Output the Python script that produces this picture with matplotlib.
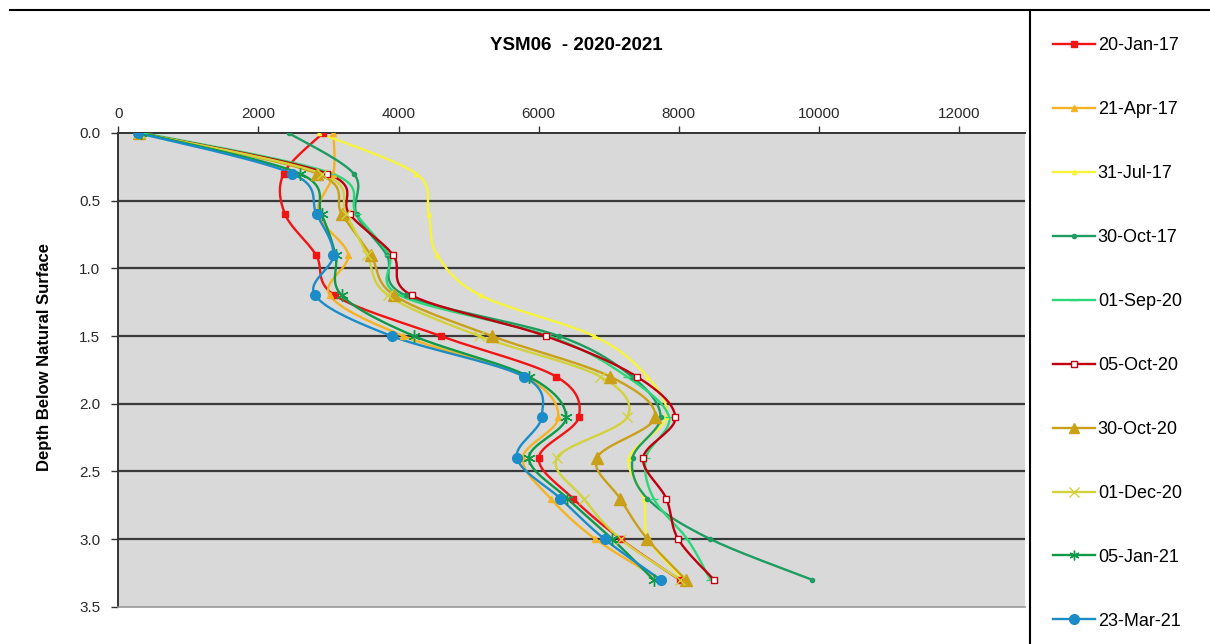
import numpy as np
import matplotlib
matplotlib.use("Agg")
import matplotlib.pyplot as plt
from matplotlib.lines import Line2D

plt.rcParams['font.family'] = ['Liberation Sans', 'DejaVu Sans']

# Depth below natural surface (m)
depth = [0.0, 0.3, 0.6, 0.9, 1.2, 1.5, 1.8, 2.1, 2.4, 2.7, 3.0, 3.3]

# Readings per survey date
jan17 = [2920, 2360, 2380, 2820, 3090, 4600, 6250, 6570, 6000, 6490, 7170, 8010]
apr17 = [3070, 3070, 2850, 3280, 3020, 4070, 5800, 6280, 5770, 6170, 6810, 7740]
jul17 = [2860, 4250, 4430, 4550, 5170, 6790, 7550, 7820, 7290, 7500, 7570, 8070]
oct17 = [2430, 3360, 3400, 3830, 4100, 6290, 7330, 7740, 7340, 7550, 8450, 9900]
sep20 = [350, 3050, 3400, 3860, 4020, 6150, 7260, 7860, 7530, 7640, 8120, 8450]
oct20a = [300, 2980, 3300, 3920, 4190, 6100, 7400, 7950, 7490, 7820, 7990, 8500]
oct20b = [300, 2840, 3190, 3600, 3940, 5330, 7020, 7660, 6830, 7160, 7550, 8100]
dec20 = [300, 2900, 3250, 3550, 3850, 5150, 6880, 7260, 6260, 6640, 7170, 8020]
jan21 = [320, 2590, 2900, 3100, 3190, 4220, 5860, 6390, 5860, 6410, 7050, 7640]
mar21 = [280, 2480, 2830, 3070, 2810, 3900, 5790, 6040, 5690, 6310, 6940, 7740]

labels = ['20-Jan-17', '21-Apr-17', '31-Jul-17', '30-Oct-17', '01-Sep-20',
          '05-Oct-20', '30-Oct-20', '01-Dec-20', '05-Jan-21', '23-Mar-21']
series = [jan17, apr17, jul17, oct17, sep20, oct20a, oct20b, dec20, jan21, mar21]

styles = [
    dict(color='#F01414', marker='s', ms=4, mfc='#F01414', mec='#F01414'),
    dict(color='#F5B324', marker='^', ms=4, mfc='#F5B324', mec='#F5B324'),
    dict(color='#F6F43A', marker='^', ms=3, mfc='#F6F43A', mec='#F6F43A'),
    dict(color='#1E9C62', marker='o', ms=3, mfc='#1E9C62', mec='#1E9C62'),
    dict(color='#2ED67A', marker='_', ms=6, mfc='#2ED67A', mec='#2ED67A'),
    dict(color='#C00010', marker='s', ms=4, mfc='white', mec='#C00010'),
    dict(color='#C9A018', marker='^', ms=8, mfc='#C9A018', mec='#C9A018'),
    dict(color='#D2D23C', marker='x', ms=7, mfc='#D2D23C', mec='#D2D23C'),
    dict(color='#0E9A48', marker=(6, 2, 0), ms=9, mfc='#0E9A48', mec='#0E9A48'),
    dict(color='#1B8CC8', marker='o', ms=7, mfc='#1B8CC8', mec='#1B8CC8'),
]


def smooth(x, y, n=20):
    """Bezier smoothing through the points (tension 1/6, as in spreadsheet charts)."""
    p = np.column_stack([x, y]).astype(float)
    ext = np.vstack([p[0], p, p[-1]])
    out = [p[0]]
    t = np.linspace(0, 1, n)[1:, None]
    for i in range(len(p) - 1):
        p0, p1 = ext[i + 1], ext[i + 2]
        c1 = p0 + (ext[i + 2] - ext[i]) / 6.0
        c2 = p1 - (ext[i + 3] - ext[i + 1]) / 6.0
        seg = ((1 - t) ** 3) * p0 + 3 * ((1 - t) ** 2) * t * c1 + 3 * (1 - t) * t ** 2 * c2 + t ** 3 * p1
        out.extend(seg)
    out = np.array(out)
    return out[:, 0], out[:, 1]


W, H = 1210, 644
fig = plt.figure(figsize=(W / 100, H / 100), dpi=100)
ax = fig.add_axes([118.3 / W, 1 - 606.8 / H, (1025 - 118.3) / W, (606.8 - 133) / H])
ax.set_facecolor('#D9D9D9')

for vals, lab, st in zip(series, labels, styles):
    sx, sy = smooth(vals, depth)
    ax.plot(sx, sy, color=st['color'], lw=1.7, zorder=3, solid_capstyle='round')
    ax.plot(vals, depth, ls='none', marker=st['marker'], ms=st['ms'],
            mfc=st['mfc'], mec=st['mec'], mew=1.0, zorder=4)

ax.set_xlim(0, 12940)
ax.set_ylim(3.5, 0)
ax.xaxis.tick_top()
ax.set_xticks([0, 2000, 4000, 6000, 8000, 10000, 12000])
ax.set_yticks(np.arange(0, 3.51, 0.5))
ax.set_yticklabels([f'{v:.1f}' for v in np.arange(0, 3.51, 0.5)])
ax.tick_params(axis='x', direction='out', length=5, width=1, color='#333333',
               labelsize=11, labelcolor='#2A2A2A', pad=4)
ax.tick_params(axis='y', direction='out', length=5, width=1, color='#333333',
               labelsize=11, labelcolor='#2A2A2A', pad=8)
for v in np.arange(0.5, 3.01, 0.5):
    ax.axhline(v, color='#3A3A3A', lw=1.6, zorder=2)
ax.spines['right'].set_visible(False)
ax.spines['top'].set_color('#333333')
ax.spines['top'].set_linewidth(1.4)
ax.spines['left'].set_color('#333333')
ax.spines['left'].set_linewidth(1.4)
ax.spines['bottom'].set_color('#9A9A9A')
ax.spines['bottom'].set_linewidth(1.2)

fig.text(45 / W, 1 - 357 / H, 'Depth Below Natural Surface', rotation=90,
         ha='center', va='center', fontsize=12, fontweight='bold')
fig.text(576 / W, 1 - 45 / H, 'YSM06  - 2020-2021', ha='center', va='center',
         fontsize=13.5, fontweight='bold')

# Legend panel on the right
fig.add_artist(Line2D([10 / W, 1], [1 - 10 / H, 1 - 10 / H], transform=fig.transFigure,
                      color='black', lw=1.5))
fig.add_artist(Line2D([1030 / W, 1030 / W], [0, 1 - 10 / H], transform=fig.transFigure,
                      color='black', lw=1.5))
handles = [Line2D([0], [0], color=st['color'], lw=1.7, marker=st['marker'],
                  ms=min(st['ms'], 7), mfc=st['mfc'], mec=st['mec']) for st in styles]
leg = fig.legend(handles, labels, loc='upper left', bbox_to_anchor=(1046 / W, 1 - 30 / H),
                 frameon=False, fontsize=13, handlelength=2.3, handletextpad=0.17,
                 labelspacing=2.6, borderaxespad=0)

fig.savefig('out.png', dpi=100)
